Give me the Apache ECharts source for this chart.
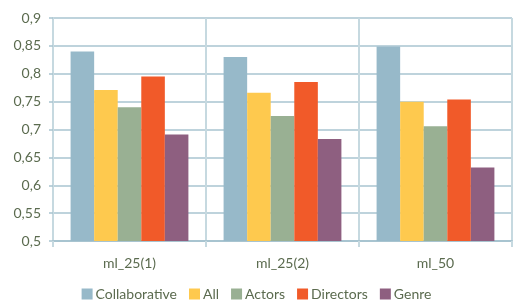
<!DOCTYPE html>
<html>
<head>
<meta charset="utf-8">
<script src="https://cdn.jsdelivr.net/npm/echarts@6/dist/echarts.min.js"></script>
<style>
  html, body { margin: 0; padding: 0; background: #fff; }
  #container { width: 513px; height: 302px; }
</style>
</head>
<body>
<div id="container"></div>
<script>
// data
var categories = ['ml_25(1)', 'ml_25(2)', 'ml_50'];
var seriesNames = ['Collaborative', 'All', 'Actors', 'Directors', 'Genre'];
var collaborative = [0.84, 0.83, 0.849];
var all = [0.771, 0.766, 0.75];
var actors = [0.74, 0.724, 0.706];
var directors = [0.795, 0.785, 0.754];
var genre = [0.691, 0.683, 0.632];
var yTicks = [0.5, 0.55, 0.6, 0.65, 0.7, 0.75, 0.8, 0.85, 0.9];

var values = [collaborative, all, actors, directors, genre];
var colors = ['#97b9c9', '#fec94e', '#99b093', '#f15a29', '#8e5f80'];
var textColor = '#5b6b4f';
var font = 'Lato';

var myChart = echarts.init(document.getElementById('container'));
var option = {
    animation: false,
    color: colors,
    grid: { left: 53, right: 1, top: 18, bottom: 61 },
    legend: {
        bottom: -4,
        left: 'center',
        itemWidth: 11,
        itemHeight: 11,
        itemGap: 12,
        icon: 'rect',
        textStyle: { color: textColor, fontSize: 14, fontFamily: font, padding: [0, 0, 0, -2] },
        data: seriesNames
    },
    xAxis: {
        type: 'category',
        data: categories,
        axisLine: { show: true, lineStyle: { color: '#a8c4d0', width: 2 } },
        axisTick: { show: true, length: 6, lineStyle: { color: '#c6d9e0', width: 2 } },
        splitLine: { show: true, lineStyle: { color: '#c6d9e0', width: 2 } },
        axisLabel: { color: textColor, fontSize: 14, fontFamily: font, margin: 15 }
    },
    yAxis: {
        type: 'value',
        min: 0.5,
        max: 0.9,
        interval: 0.05,
        axisLine: { show: true, lineStyle: { color: '#c6d9e0', width: 2 } },
        axisTick: { show: true, length: 4, lineStyle: { color: '#a8c4d0', width: 1.5 } },
        splitLine: { show: true, lineStyle: { color: '#a8c4d0', width: 1.5 } },
        axisLabel: {
            color: textColor, fontSize: 14, fontFamily: font, margin: 12,
            formatter: function (v) {
                var s = yTicks.indexOf(Math.round(v * 100) / 100) >= 0 ? String(Math.round(v * 100) / 100) : '';
                return s.replace('.', ',');
            }
        }
    },
    series: seriesNames.map(function (name, i) {
        return {
            name: name,
            type: 'bar',
            data: values[i],
            barGap: '0%',
            barCategoryGap: '23%'
        };
    })
};
myChart.setOption(option);
</script>
</body>
</html>
